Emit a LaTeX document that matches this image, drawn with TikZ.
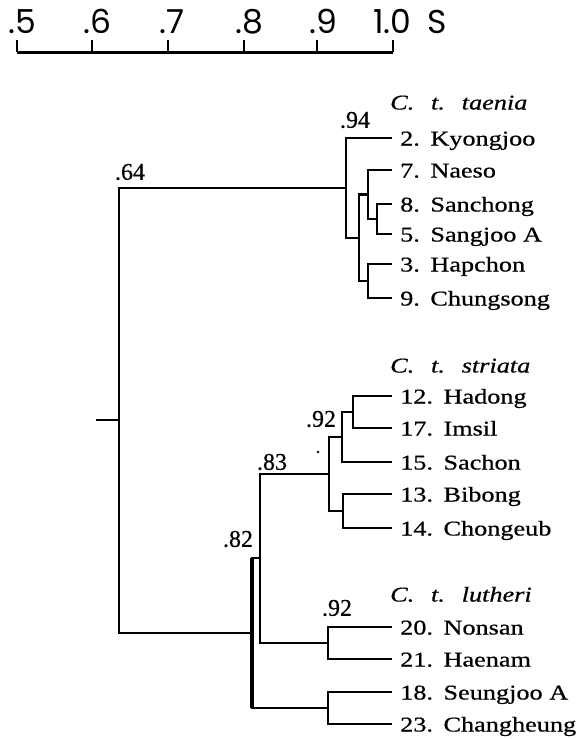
\documentclass[tikz,border=0pt]{standalone}
\usepackage{fontspec}
\setmainfont{Liberation Serif}
\newfontfamily\leaffont[FakeStretch=1.25,FakeBold=0.6]{Liberation Serif}
\newfontfamily\valfont[FakeBold=0.5]{Liberation Serif}
\newfontfamily\scalefnt{Poppins}
\begin{document}
\begin{tikzpicture}[x=1pt,y=-1pt,
  br/.style={line width=2.2pt, line join=miter},
  leaf/.style={anchor=west, inner xsep=8pt, inner ysep=0pt, text height=15pt, text depth=0pt, font=\leaffont\fontsize{21}{21}\selectfont},
  hdr/.style={anchor=west, inner sep=0pt, text height=15pt, text depth=0pt, font=\leaffont\itshape\fontsize{21}{21}\selectfont},
  val/.style={inner sep=0pt, font=\valfont\fontsize{24}{24}\selectfont},
  sc/.style={anchor=base west, inner sep=0pt, font=\scalefnt\fontsize{33}{33}\selectfont}]
\useasboundingbox (0,0) rectangle (582,739);

% scale bar
\coordinate (s5) at (17,52);
\coordinate (s10) at (393,52);
\draw[line width=3pt] (s5) -- (s10);
\foreach \x in {17,92,168,244,317,393}
  \draw[line width=2.4pt] (\x,52) -- (\x,40);
\node[sc] (l5) at (8,33) {.5};
\node[sc] (l6) at (83,33) {.6};
\node[sc] (l7) at (159,33) {.7};
\node[sc] (l8) at (235,33) {.8};
\node[sc] (l9) at (309,33) {.9};
\node[sc] (l10) at (373,33) {1.0};
\node[sc] (lS) at (427,33) {S};

% leaves
\node[leaf] (t2) at (392,138) {2.\hspace{0.5em}Kyongjoo};
\node[leaf] (t7) at (392,170) {7.\hspace{0.5em}Naeso};
\node[leaf] (t8) at (392,204) {8.\hspace{0.5em}Sanchong};
\node[leaf] (t5) at (392,234) {5.\hspace{0.5em}Sangjoo A};
\node[leaf] (t3) at (392,264) {3.\hspace{0.5em}Hapchon};
\node[leaf] (t9) at (392,298) {9.\hspace{0.5em}Chungsong};

\node[leaf] (s12) at (392,396) {12.\hspace{0.5em}Hadong};
\node[leaf] (s17) at (392,428) {17.\hspace{0.5em}Imsil};
\node[leaf] (s15) at (392,462) {15.\hspace{0.5em}Sachon};
\node[leaf] (s13) at (392,494) {13.\hspace{0.5em}Bibong};
\node[leaf] (s14) at (392,528) {14.\hspace{0.5em}Chongeub};

\node[leaf] (u20) at (392,627) {20.\hspace{0.5em}Nonsan};
\node[leaf] (u21) at (392,659) {21.\hspace{0.5em}Haenam};
\node[leaf] (u18) at (392,692) {18.\hspace{0.5em}Seungjoo A};
\node[leaf] (u23) at (392,724) {23.\hspace{0.5em}Changheung};

% headers
\node[hdr] (h1) at (390,102) {C.\hspace{0.8em}t.\hspace{0.8em}taenia};
\node[hdr] (h2) at (390,365) {C.\hspace{0.8em}t.\hspace{0.8em}striata};
\node[hdr] (h3) at (390,594) {C.\hspace{0.8em}t.\hspace{0.8em}lutheri};

% internal nodes
\coordinate (root) at (96,420);
\coordinate (n64) at (119,420);
\coordinate (n94) at (346,188);
\coordinate (nA) at (359,238);
\coordinate (nB) at (368,194.5);
\coordinate (nD) at (377,219);
\coordinate (nC) at (368,281);
\coordinate (n82) at (252,633);
\coordinate (n83) at (260,558);
\coordinate (nE) at (329,474);
\coordinate (nS92) at (342,437);
\coordinate (nH) at (353,412);
\coordinate (nG) at (343,511);
\coordinate (nL92) at (328,643);
\coordinate (nF) at (328,708);

\draw[br] (root) -- (n64);
\draw[br] (n64) |- (n94);
\draw[br] (n64) |- (n82);
\draw[br] (n94) |- (t2.west);
\draw[br] (n94) |- (nA);
\draw[br] (nA) |- (nB);
\draw[br] (nA) |- (nC);
\draw[br] (nB) |- (t7.west);
\draw[br] (nB) |- (nD);
\draw[br] (nD) |- (t8.west);
\draw[br] (nD) |- (t5.west);
\draw[br] (nC) |- (t3.west);
\draw[br] (nC) |- (t9.west);

\draw[br] (n82) |- (n83);
\draw[br] (n82) |- (nF);
\draw[line width=3.2pt] (n82 |- n83) -- (n82 |- nF);
\draw[br] (n83) |- (nE);
\draw[br] (n83) |- (nL92);
\draw[br] (nE) |- (nS92);
\draw[br] (nE) |- (nG);
\draw[br] (nS92) |- (nH);
\draw[br] (nS92) |- (s15.west);
\draw[br] (nH) |- (s12.west);
\draw[br] (nH) |- (s17.west);
\draw[br] (nG) |- (s13.west);
\draw[br] (nG) |- (s14.west);
\draw[br] (nL92) |- (u20.west);
\draw[br] (nL92) |- (u21.west);
\draw[br] (nF) |- (u18.west);
\draw[br] (nF) |- (u23.west);

% values
\node[val] (v64) at (130,172) {.64};
\node[val] (v94) at (355,120) {.94};
\node[val] (v92a) at (321,419) {.92};
\node[val] (v83) at (272,462) {.83};
\node[val] (v82) at (238,539) {.82};
\node[val] (v92b) at (337,608) {.92};
\fill (318,452) circle (1.4pt);
\end{tikzpicture}
\end{document}
